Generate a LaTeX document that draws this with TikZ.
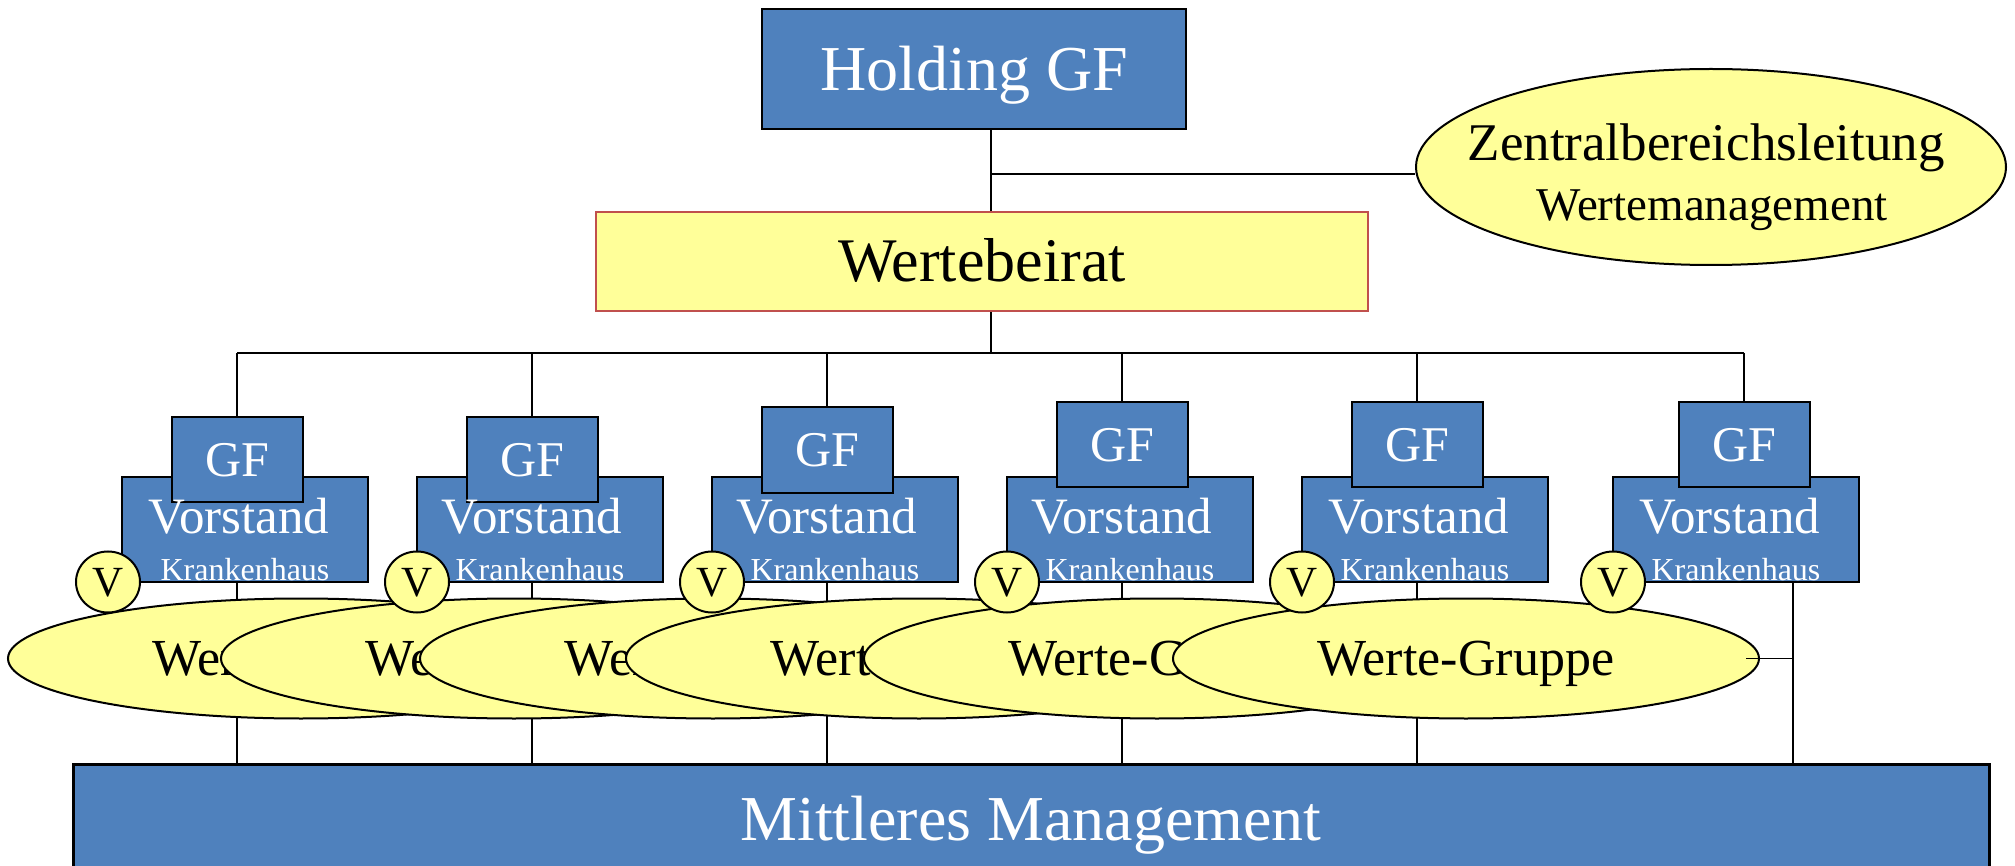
\documentclass[tikz,border=0pt]{standalone}
\usepackage{fontspec}
\setmainfont{Liberation Serif}
\usetikzlibrary{shapes.geometric}
\definecolor{boxblue}{HTML}{4F81BD}
\definecolor{paleyellow}{HTML}{FFFF99}
\definecolor{redborder}{HTML}{C0504D}
\pgfdeclarelayer{background}
\pgfsetlayers{background,main}
\newcommand{\fsz}[1]{\fontsize{#1}{#1}\selectfont}
\begin{document}
\begin{tikzpicture}[x=0.5pt,y=-0.5pt,
  bluebox/.style={rectangle, draw=black, line width=1pt, fill=boxblue, text=white, inner sep=0pt},
  yelbox/.style={rectangle, draw=redborder, line width=1pt, fill=paleyellow, text=black, inner sep=0pt},
  yelell/.style={ellipse, draw=black, line width=1pt, fill=paleyellow, text=black, inner sep=0pt},
  conn/.style={draw=black, line width=0.75pt},
  capc/.style={text height=#1, text depth=0pt},
  lbl/.style={inner sep=0pt, anchor=base}]
\useasboundingbox (0,0) rectangle (2015,866);
\clip (0,0) rectangle (2015,866);

% top part
\node[bluebox, minimum width=212pt, minimum height=60pt, font=\fsz{32}, capc=21.1pt] (hold) at (974,69) {Holding GF};
\node[yelbox, minimum width=386pt, minimum height=49.5pt, font=\fsz{31}, capc=20.4pt] (wb) at (982,261.5) {Wertebeirat};
\node[yelell, minimum width=295pt, minimum height=98pt] (zb) at (1711,167) {};
\node[lbl, font=\fsz{26.5}] (zbt1) at (1706,161) {Zentralbereichsleitung};
\node[lbl, font=\fsz{23.5}] (zbt2) at (1712,221) {Wertemanagement};

\coordinate (hx) at (991,174);
\coordinate (bus) at (991,353);
\coordinate (b1) at (237,353);
\coordinate (b2) at (532,353);
\coordinate (b3) at (827,353);
\coordinate (b4) at (1122,353);
\coordinate (b5) at (1417,353);
\coordinate (b6) at (1744,353);
\coordinate (rx) at (1793,658.5);

% bottom box
\node[bluebox, line width=1.5pt, minimum width=958pt, minimum height=55pt, font=\fsz{32}, capc=21.1pt] (mm) at (1031,819) {Mittleres Management};

% Vorstand boxes
\foreach \i/\vx in {1/245,2/540,3/835,4/1130,5/1425,6/1736}{
  \node[bluebox, minimum width=123pt, minimum height=52.5pt] (v\i) at (\vx,529.5) {};
}
% GF boxes
\foreach \i/\cx/\gy in {1/237/459.5,2/532/459.5,3/827/450,4/1122/444.5,5/1417/444.5,6/1744/444.5}{
  \node[bluebox, minimum width=65.5pt, minimum height=42.5pt, font=\fsz{25}, capc=16.5pt] (g\i) at (\cx,\gy) {GF};
}
% Vorstand texts
\foreach \i/\tx/\kx in {1/239/245,2/532/540,3/827/835,4/1122/1130,5/1419/1425,6/1730/1736}{
  \node[lbl, text=white, font=\fsz{25.5}] (vt\i) at (\tx,533) {Vorstand};
  \node[lbl, text=white, font=\fsz{16}] (kt\i) at (\kx,580) {Krankenhaus};
}
% Werte-Gruppe ellipses
\foreach \i/\ex in {1/301,2/514,3/713,4/919,5/1157,6/1466}{
  \node[yelell, minimum width=293pt, minimum height=60pt, font=\fsz{26}, capc=17.2pt] (w\i) at (\ex,658.5) {Werte-Gruppe};
}
\draw[conn] ([xshift=-7pt]w6.east) -- (w6.east -| rx);
% V circles
\foreach \i/\px in {1/108,2/417,3/712,4/1007,5/1302,6/1613}{
  \node[yelell, minimum width=32pt, minimum height=30.5pt, font=\fsz{21.5}, capc=14.2pt] (c\i) at (\px,582) {V};
}

% connectors behind
\begin{pgfonlayer}{background}
  \draw[conn] (hold.south -| hx) -- (wb.north -| hx);
  \draw[conn] (hx) -- (hx -| zb.west);
  \draw[conn] (wb.south -| hx) -- (bus);
  \draw[conn] (b1) -- (b6);
  \foreach \i in {1,2,3,4,5}{
    \draw[conn] (b\i) -- (b\i |- mm.north);
  }
  \draw[conn] (b6) -- (g6.north);
  \draw[conn] (v6.south -| rx) -- (rx |- mm.north);
\end{pgfonlayer}
\end{tikzpicture}
\end{document}
